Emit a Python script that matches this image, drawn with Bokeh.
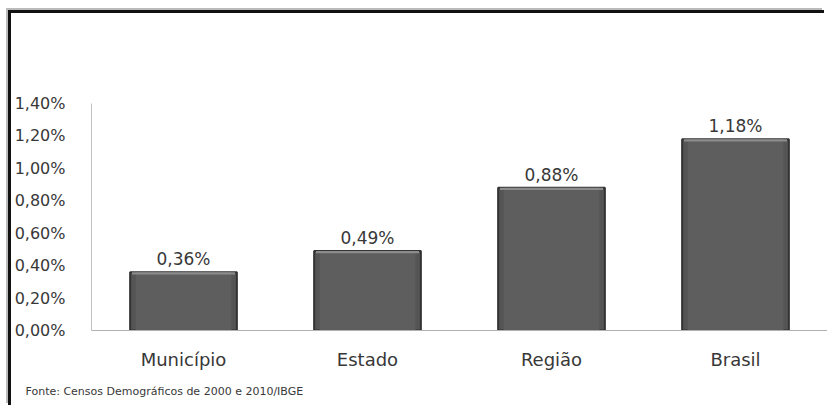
from bokeh.plotting import figure
from bokeh.models import Range1d, CustomJSTickFormatter, FixedTicker, Title, ColumnDataSource
from bokeh.core.properties import value
from bokeh.embed import file_html
from bokeh.resources import INLINE

categories = ["Município", "Estado", "Região", "Brasil"]
values = [0.36, 0.49, 0.88, 1.18]
labels = ["0,36%", "0,49%", "0,88%", "1,18%"]
y_ticks = [0.0, 0.2, 0.4, 0.6, 0.8, 1.0, 1.2, 1.4]
source_note = "Fonte: Censos Demográficos de 2000 e 2010/IBGE"

FONT = "DejaVu Sans"
TXT = "#383838"

band = [v - 0.014 for v in values]
src = ColumnDataSource(dict(cat=categories, val=values, lab=labels, band=band))

p = figure(x_range=categories, y_range=Range1d(0, 1.4), width=816, height=395,
           output_backend="svg", toolbar_location=None,
           min_border_left=80, min_border_right=0, min_border_top=90, min_border_bottom=10)
p.styles = {"box-shadow": "-3px -3px 0 0 #111, -5px -5px 0 0 #bbb",
            "margin-top": "13px", "margin-left": "11px", "overflow": "hidden"}
p.outline_line_color = None
p.xgrid.visible = False
p.ygrid.visible = False
p.background_fill_color = "white"
p.border_fill_color = "white"

p.vbar(x="cat", top="val", width=0.58, source=src, fill_color="#555555",
       line_color="#333333", line_width=2)
p.vbar(x="cat", top="val", bottom=0, width=0.52, source=src, fill_color="#5e5e5e",
       line_color=None)
p.vbar(x="cat", top="val", bottom="band", width=0.56, source=src, fill_color="#8c8c8c",
       line_color=None)
p.text(x="cat", y="val", text="lab", source=src, text_align="center",
       text_baseline="alphabetic", y_offset=-13, text_font=value(FONT),
       text_font_size="17px", text_color=TXT)

ya = p.yaxis[0]
ya.ticker = FixedTicker(ticks=y_ticks)
ya.formatter = CustomJSTickFormatter(code="return tick.toFixed(2).replace('.', ',') + '%';")
ya.major_tick_line_color = None
ya.minor_tick_line_color = None
ya.axis_line_color = "#c0c0c0"
ya.major_label_standoff = 20
ya.major_label_text_font = FONT
ya.major_label_text_font_size = "16px"
ya.major_label_text_color = TXT

xa = p.xaxis[0]
xa.major_tick_line_color = None
xa.minor_tick_line_color = None
xa.axis_line_color = "#b0b0b0"
xa.major_label_standoff = 12
xa.major_label_text_font = FONT
xa.major_label_text_font_size = "18px"
xa.major_label_text_color = TXT

note = Title(text=source_note, align="left", offset=-66, text_font=FONT,
             text_font_size="11px", text_color=TXT, text_font_style="normal",
             standoff=21)
p.add_layout(note, "below")

open("out.html", "w").write(file_html(p, INLINE))
